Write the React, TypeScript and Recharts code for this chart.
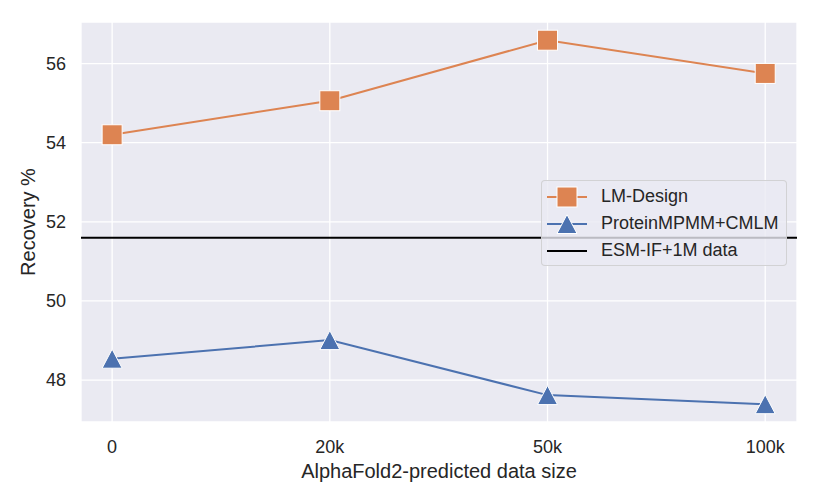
import React from 'react';
import { LineChart, Line, XAxis, YAxis, CartesianGrid, ReferenceLine, Label } from 'recharts';

const sizes = ['0', '20k', '50k', '100k'];
const lmDesign = [54.2, 55.06, 56.59, 55.75];
const proteinMpnn = [48.54, 49.01, 47.62, 47.39];
const esmIfBaseline = 51.6;
const yTicks = [48, 50, 52, 54, 56];

const ORANGE = '#DD8452';
const BLUE = '#4C72B0';
const TEXT = '#262626';
const FONT = '"Liberation Sans", Arial, sans-serif';

const data = sizes.map((s, i) => ({ idx: i, label: s, lm: lmDesign[i], pm: proteinMpnn[i] }));

const SquareDot = (props: any) => {
  const { cx, cy } = props;
  if (cx == null || cy == null) return null;
  return <rect x={cx - 10} y={cy - 10} width={20} height={20} fill={ORANGE} stroke="#fff" strokeWidth={1} />;
};

const TriangleDot = (props: any) => {
  const { cx, cy } = props;
  if (cx == null || cy == null) return null;
  return (
    <polygon
      points={`${cx},${cy - 9.5} ${cx - 10},${cy + 9.5} ${cx + 10},${cy + 9.5}`}
      fill={BLUE}
      stroke="#fff"
      strokeWidth={1}
    />
  );
};

const legendItems = [
  { name: 'LM-Design', color: ORANGE, mark: 'square' },
  { name: 'ProteinMPMM+CMLM', color: BLUE, mark: 'triangle' },
  { name: 'ESM-IF+1M data', color: '#000', mark: 'none' },
];

const LegendBox = () => (
  <div
    style={{
      position: 'absolute',
      left: 541,
      top: 180,
      background: 'rgba(234,234,242,0.8)',
      border: '1px solid rgba(204,204,204,0.8)',
      borderRadius: 4,
      width: 246,
      height: 86,
      boxSizing: 'border-box',
      fontFamily: FONT,
      fontSize: 18,
      color: TEXT,
      padding: '2px 0 0 5px',
    }}
  >
    {legendItems.map((e) => (
      <div key={e.name} style={{ display: 'flex', alignItems: 'center', height: 27 }}>
        <svg width={46} height={24} style={{ marginRight: 8 }}>
          <line x1={0} y1={12} x2={40} y2={12} stroke={e.color} strokeWidth={2} />
          {e.mark === 'square' && <rect x={10} y={2} width={20} height={20} fill={ORANGE} stroke="#fff" strokeWidth={1} />}
          {e.mark === 'triangle' && <polygon points="20,2.5 10,21.5 30,21.5" fill={BLUE} stroke="#fff" strokeWidth={1} />}
        </svg>
        <span>{e.name}</span>
      </div>
    ))}
  </div>
);

export default function App() {
  return (
    <div style={{ position: 'absolute', left: 0, top: 0, width: 818, height: 500, background: '#fff' }}>
      <LineChart width={818} height={500} data={data} margin={{ top: 22, right: 21, bottom: 0, left: 0 }}>
        <CartesianGrid fill="#EAEAF2" stroke="#fff" strokeWidth={1.3} />
        <XAxis
          dataKey="idx"
          type="number"
          domain={[-0.143, 3.146]}
          ticks={[0, 1, 2, 3]}
          tickFormatter={(v: number) => sizes[v]}
          axisLine={false}
          tickLine={false}
          tickSize={0}
          tickMargin={18}
          height={78}
          tick={{ fill: TEXT, fontSize: 18, fontFamily: FONT }}
        >
          <Label
            value="AlphaFold2-predicted data size"
            position="insideBottom"
            offset={22}
            style={{ fill: TEXT, fontSize: 20, fontFamily: FONT }}
          />
        </XAxis>
        <YAxis
          type="number"
          domain={[46.94, 57.05]}
          ticks={yTicks}
          axisLine={false}
          tickLine={false}
          tickSize={0}
          tickMargin={15}
          width={81}
          allowDataOverflow
          tick={{ fill: TEXT, fontSize: 18, fontFamily: FONT }}
        >
          <Label
            value="Recovery %"
            angle={-90}
            position="insideLeft"
            offset={28}
            style={{ fill: TEXT, fontSize: 20, fontFamily: FONT, textAnchor: 'middle' }}
          />
        </YAxis>
        <ReferenceLine y={esmIfBaseline} stroke="#000" strokeWidth={2} />
        <Line dataKey="lm" stroke={ORANGE} strokeWidth={2} dot={<SquareDot />} activeDot={false} isAnimationActive={false} />
        <Line dataKey="pm" stroke={BLUE} strokeWidth={2} dot={<TriangleDot />} activeDot={false} isAnimationActive={false} />
      </LineChart>
      <LegendBox />
    </div>
  );
}
